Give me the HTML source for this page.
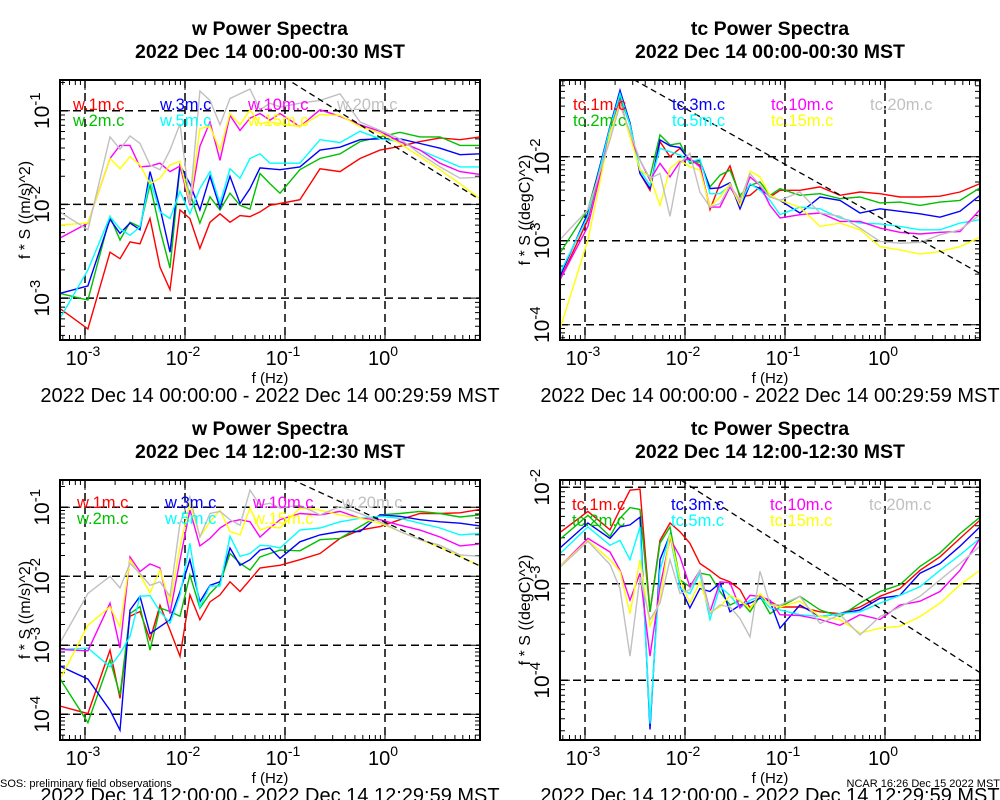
<!DOCTYPE html>
<html><head><meta charset="utf-8"><style>
html,body{margin:0;padding:0;background:#fff}
svg{display:block;font-family:"Liberation Sans",sans-serif}
</style></head><body>
<svg id="chart" width="1000" height="800" viewBox="0 0 1000 800" xmlns="http://www.w3.org/2000/svg">
<rect width="1000" height="800" fill="#fff"/>
<text x="0" y="787" font-size="11">SOS: preliminary field observations</text>
<text x="1000" y="787" font-size="11" text-anchor="end">NCAR 16:26 Dec 15 2022 MST</text>
</svg>
<script>
// Frequencies (Hz)
const freqHz = [5.6e-4,1.07e-3,1.78e-3,2.24e-3,2.82e-3,3.55e-3,4.47e-3,5.62e-3,7.08e-3,8.91e-3,1.12e-2,1.41e-2,1.78e-2,2.24e-2,2.82e-2,3.55e-2,4.47e-2,5.62e-2,7.08e-2,8.91e-2,0.141,0.224,0.355,0.562,0.891,1.41,2.24,3.55,5.62,8.91];
const heights = ["1m","2m","3m","5m","10m","15m","20m"];
// Panel 1: w 00:00 (log10 of f*S)
const w00_1m = [-3.11,-3.33,-2.51,-2.58,-2.40,-2.42,-2.15,-2.67,-2.91,-2.06,-2.15,-2.47,-2.19,-2.10,-2.19,-2.12,-2.13,-2.08,-2.01,-1.99,-1.95,-1.62,-1.65,-1.51,-1.42,-1.38,-1.33,-1.29,-1.31,-1.28];
const w00_2m = [-2.95,-3.02,-2.13,-2.38,-2.19,-2.24,-1.79,-2.27,-2.68,-1.60,-1.88,-2.20,-1.92,-2.06,-1.88,-2.01,-2.05,-1.67,-1.78,-1.88,-1.63,-1.51,-1.46,-1.33,-1.28,-1.23,-1.28,-1.28,-1.37,-1.37];
const w00_3m = [-2.95,-2.87,-2.16,-2.31,-2.20,-2.27,-1.65,-2.04,-2.51,-1.58,-1.78,-2.06,-1.70,-2.04,-1.70,-1.99,-1.83,-1.61,-1.62,-1.63,-1.60,-1.42,-1.39,-1.31,-1.30,-1.30,-1.35,-1.40,-1.47,-1.46];
const w00_5m = [-3.22,-2.70,-2.13,-2.26,-2.33,-2.24,-1.74,-2.08,-2.15,-1.86,-2.10,-1.83,-1.65,-1.99,-1.62,-1.72,-1.51,-1.46,-1.56,-1.56,-1.56,-1.31,-1.34,-1.22,-1.30,-1.33,-1.42,-1.51,-1.60,-1.60];
const w00_10m = [-2.36,-2.20,-1.51,-1.37,-1.37,-1.60,-1.59,-1.56,-1.65,-1.59,-2.01,-1.38,-1.12,-1.53,-1.05,-1.21,-1.08,-1.03,-1.10,-1.03,-1.17,-0.99,-1.06,-1.15,-1.22,-1.33,-1.42,-1.56,-1.65,-1.68];
const w00_15m = [-2.22,-2.20,-1.51,-1.62,-1.49,-1.58,-1.78,-1.72,-1.58,-1.54,-1.99,-1.19,-1.17,-1.42,-1.03,-1.15,-0.99,-1.14,-1.12,-1.14,-1.17,-1.04,-1.05,-1.17,-1.24,-1.35,-1.49,-1.63,-1.78,-1.94];
const w00_20m = [-2.08,-2.27,-1.28,-1.41,-1.27,-1.35,-1.58,-1.63,-1.42,-1.14,-1.99,-0.79,-0.89,-1.15,-0.87,-0.82,-0.77,-0.99,-0.92,-0.96,-0.92,-0.89,-0.82,-1.12,-1.21,-1.30,-1.46,-1.60,-1.72,-1.71];
// Panel 2: tc 00:00
const tc00_1m = [-3.47,-2.75,-1.64,-1.23,-1.60,-2.20,-2.40,-1.82,-2.00,-1.90,-2.04,-2.10,-2.63,-2.32,-2.11,-2.48,-2.46,-2.36,-2.48,-2.40,-2.40,-2.36,-2.46,-2.42,-2.44,-2.48,-2.48,-2.47,-2.42,-2.32];
const tc00_2m = [-3.15,-2.63,-1.68,-1.29,-1.62,-2.16,-2.24,-1.74,-1.86,-1.84,-2.08,-2.06,-2.36,-2.22,-2.16,-2.46,-2.34,-2.30,-2.46,-2.38,-2.46,-2.44,-2.50,-2.48,-2.55,-2.54,-2.58,-2.54,-2.52,-2.37];
const tc00_3m = [-3.43,-2.67,-1.64,-1.21,-1.60,-2.20,-2.38,-1.80,-1.87,-1.89,-2.06,-2.04,-2.38,-2.37,-2.31,-2.62,-2.33,-2.38,-2.47,-2.52,-2.67,-2.48,-2.52,-2.67,-2.62,-2.65,-2.68,-2.72,-2.65,-2.46];
const tc00_5m = [-3.39,-2.71,-1.66,-1.25,-1.62,-2.16,-2.34,-1.90,-1.94,-1.98,-2.06,-2.03,-2.44,-2.44,-2.34,-2.56,-2.32,-2.40,-2.52,-2.69,-2.60,-2.62,-2.73,-2.79,-2.80,-2.83,-2.87,-2.87,-2.79,-2.75];
const tc00_10m = [-3.47,-2.83,-1.72,-1.33,-1.76,-2.04,-2.28,-2.08,-2.24,-2.06,-2.02,-2.12,-2.60,-2.60,-2.36,-2.56,-2.24,-2.34,-2.58,-2.73,-2.69,-2.67,-2.77,-2.77,-2.85,-2.90,-2.92,-2.90,-2.89,-2.63];
const tc00_15m = [-4.06,-2.99,-1.72,-1.36,-1.76,-2.16,-2.24,-2.58,-2.14,-2.04,-2.12,-2.16,-2.60,-2.48,-2.32,-2.58,-2.17,-2.24,-2.46,-2.52,-2.60,-2.83,-2.79,-2.87,-3.07,-3.11,-3.16,-3.13,-3.07,-2.96];
const tc00_20m = [-2.99,-2.63,-1.80,-1.38,-1.71,-2.04,-2.26,-2.20,-2.71,-2.08,-1.96,-2.42,-2.60,-2.56,-2.34,-2.52,-2.20,-2.34,-2.48,-2.52,-2.42,-2.67,-2.71,-2.85,-3.01,-3.03,-3.02,-2.93,-2.87,-2.69];
// Panel 3: w 12:00
const w12_1m = [-3.88,-3.99,-3.07,-3.77,-2.58,-2.51,-2.92,-2.42,-2.78,-3.16,-2.27,-2.63,-2.37,-2.27,-2.08,-2.22,-2.05,-1.88,-1.86,-1.84,-1.76,-1.67,-1.45,-1.33,-1.28,-1.18,-1.09,-1.09,-1.08,-1.03];
const w12_2m = [-3.48,-4.12,-3.21,-3.72,-2.54,-2.44,-3.07,-2.46,-2.51,-2.58,-1.98,-2.46,-2.25,-2.10,-1.67,-1.81,-1.91,-1.72,-1.67,-1.62,-1.63,-1.47,-1.45,-1.28,-1.11,-1.09,-1.06,-1.09,-1.14,-1.11];
const w12_3m = [-3.30,-3.49,-3.94,-4.23,-2.49,-2.29,-2.83,-2.73,-2.63,-2.22,-1.76,-2.37,-2.13,-2.08,-1.59,-1.84,-1.76,-1.62,-1.59,-1.74,-1.50,-1.40,-1.35,-1.35,-1.11,-1.13,-1.18,-1.21,-1.23,-1.27];
const w12_5m = [-3.06,-3.04,-3.31,-3.12,-2.87,-2.29,-2.28,-2.51,-2.68,-2.27,-1.52,-2.44,-2.14,-2.14,-1.42,-1.71,-1.67,-1.55,-1.56,-1.59,-1.33,-1.30,-1.21,-1.16,-1.13,-1.16,-1.23,-1.30,-1.40,-1.38];
const w12_10m = [-3.06,-3.08,-2.39,-3.04,-1.72,-1.93,-1.82,-1.88,-2.54,-1.76,-1.04,-1.56,-1.45,-1.30,-1.21,-1.18,-1.21,-1.43,-1.30,-1.18,-1.09,-1.11,-1.06,-1.16,-1.18,-1.26,-1.33,-1.43,-1.56,-1.53];
const w12_15m = [-3.50,-2.71,-2.44,-2.73,-1.76,-1.98,-2.24,-1.91,-2.39,-1.57,-0.94,-1.43,-1.21,-1.04,-1.35,-1.40,-1.01,-1.33,-1.28,-1.30,-1.01,-1.04,-1.11,-1.16,-1.23,-1.35,-1.47,-1.58,-1.71,-1.85];
const w12_20m = [-2.97,-2.25,-2.00,-2.17,-1.81,-1.96,-2.13,-2.08,-2.29,-1.23,-0.85,-1.43,-1.09,-1.06,-1.18,-1.26,-0.75,-0.97,-0.94,-1.01,-0.97,-1.11,-0.99,-1.09,-1.21,-1.35,-1.47,-1.55,-1.69,-1.71];
// Panel 4: tc 12:00
const tc12_1m = [-2.47,-2.25,-2.44,-2.23,-2.03,-2.02,-3.29,-2.55,-2.37,-2.46,-2.58,-2.79,-2.86,-2.94,-2.98,-3.06,-3.25,-3.13,-3.18,-3.24,-3.24,-3.29,-3.31,-3.24,-3.13,-3.05,-2.86,-2.72,-2.53,-2.34];
const tc12_2m = [-2.54,-2.29,-2.51,-2.32,-2.21,-2.23,-3.29,-2.58,-2.41,-2.96,-3.03,-2.89,-2.91,-3.08,-3.22,-3.17,-3.29,-3.13,-3.31,-3.24,-3.13,-3.27,-3.34,-3.20,-3.08,-3.01,-2.82,-2.68,-2.48,-2.31];
const tc12_3m = [-2.63,-2.37,-2.53,-2.41,-2.39,-2.31,-4.51,-2.75,-2.49,-3.03,-3.25,-3.05,-3.08,-2.99,-3.29,-3.22,-3.20,-3.15,-3.18,-3.46,-3.22,-3.34,-3.31,-3.27,-3.15,-3.12,-2.89,-2.79,-2.61,-2.41];
const tc12_5m = [-2.69,-2.41,-2.60,-2.55,-2.75,-2.41,-4.45,-2.86,-2.48,-3.05,-3.10,-2.89,-3.37,-3.03,-3.12,-3.25,-3.17,-3.13,-3.25,-3.27,-3.32,-3.34,-3.31,-3.29,-3.20,-3.12,-3.03,-2.86,-2.70,-2.53];
const tc12_10m = [-2.82,-2.53,-2.67,-2.86,-3.17,-2.89,-3.75,-3.03,-2.53,-2.72,-3.03,-2.86,-3.29,-2.98,-2.99,-3.25,-3.12,-3.13,-3.17,-3.32,-3.33,-3.37,-3.43,-3.32,-3.37,-3.22,-3.18,-3.08,-2.86,-2.53];
const tc12_15m = [-2.82,-2.55,-2.75,-2.87,-3.31,-2.75,-3.44,-3.17,-2.49,-2.96,-3.20,-2.98,-3.29,-3.24,-3.12,-3.17,-3.26,-3.10,-3.22,-3.24,-3.18,-3.34,-3.37,-3.51,-3.46,-3.44,-3.34,-3.20,-3.01,-2.86];
const tc12_20m = [-2.83,-2.56,-2.80,-3.05,-3.75,-2.93,-3.37,-3.20,-2.75,-3.10,-3.06,-2.86,-3.31,-3.22,-3.24,-3.36,-3.55,-2.87,-3.21,-3.22,-3.13,-3.41,-3.32,-3.53,-3.34,-3.24,-3.13,-2.96,-2.79,-2.61];
// Reference -2/3 slope line: log10 value at f = 8.91 Hz
const refLineAt9Hz = [-1.95,-3.39,-1.85,-3.92];
const xTickExps = [-3,-2,-1,0];

const colors = ["#ff0000","#00c000","#0000ff","#00ffff","#ff00ff","#ffff00","#c0c0c0"];
const NS = "http://www.w3.org/2000/svg";
const svg = document.getElementById("chart");
function el(tag, attrs, parent){const e=document.createElementNS(NS,tag);for(const k in attrs)e.setAttribute(k,attrs[k]);(parent||svg).appendChild(e);return e;}

const panels = [
 {v:"w",title:"w Power Spectra",sub:"2022 Dec 14 00:00-00:30 MST",range:"2022 Dec 14 00:00:00 - 2022 Dec 14 00:29:59 MST",ox:0,top:80,yRef:-1,yRefPx:110.7,ppd:93.7,yDec:[-1,-2,-3],ylab:"f * S ((m/s)^2)",series:[w00_1m,w00_2m,w00_3m,w00_5m,w00_10m,w00_15m,w00_20m],ref:refLineAt9Hz[0],legY:110,legX:[73,160,248,337]},
 {v:"tc",title:"tc Power Spectra",sub:"2022 Dec 14 00:00-00:30 MST",range:"2022 Dec 14 00:00:00 - 2022 Dec 14 00:29:59 MST",ox:500,top:80,yRef:-2,yRefPx:156.7,ppd:84,yDec:[-2,-3,-4],ylab:"f * S ((degC)^2)",series:[tc00_1m,tc00_2m,tc00_3m,tc00_5m,tc00_10m,tc00_15m,tc00_20m],ref:refLineAt9Hz[1],legY:110,legX:[573,672,771,870]},
 {v:"w",title:"w Power Spectra",sub:"2022 Dec 14 12:00-12:30 MST",range:"2022 Dec 14 12:00:00 - 2022 Dec 14 12:29:59 MST",ox:0,top:480,yRef:-1,yRefPx:507.3,ppd:69,yDec:[-1,-2,-3,-4],ylab:"f * S ((m/s)^2)",series:[w12_1m,w12_2m,w12_3m,w12_5m,w12_10m,w12_15m,w12_20m],ref:refLineAt9Hz[2],legY:508,legX:[77,165,253,342]},
 {v:"tc",title:"tc Power Spectra",sub:"2022 Dec 14 12:00-12:30 MST",range:"2022 Dec 14 12:00:00 - 2022 Dec 14 12:29:59 MST",ox:500,top:480,yRef:-2,yRefPx:487.3,ppd:96.5,yDec:[-2,-3,-4],ylab:"f * S ((degC)^2)",series:[tc12_1m,tc12_2m,tc12_3m,tc12_5m,tc12_10m,tc12_15m,tc12_20m],ref:refLineAt9Hz[3],legY:510,legX:[572,671,770,869]}
];

panels.forEach((p,pi)=>{
  const L=p.ox+60, R=p.ox+480, T=p.top, B=p.top+260;
  const xS = lf => p.ox+85+100*(lf+3);
  const yS = ly => p.yRefPx+(p.yRef-ly)*p.ppd;
  const g = el("g",{});
  
  
  const cx=p.ox+270;
  const t1=el("text",{x:cx,y:T-45,"font-size":19.5,"font-weight":"bold","text-anchor":"middle"},g); t1.textContent=p.title;
  
  
  const t2=el("text",{x:cx,y:T-22,"font-size":19.5,"font-weight":"bold","text-anchor":"middle"},g); t2.textContent=p.sub;
  
  
  const cid="clip"+pi;
  const cp=el("clipPath",{id:cid},g); el("rect",{x:L,y:T,width:R-L,height:B-T},cp);
  let tk="";
  for(let d=-4;d<=1;d++)for(let k=1;k<10;k++){const lf=d+Math.log10(k);const x=xS(lf);if(x<L||x>R)continue;const len=k===1?10:5;tk+=`M${x},${B}v${-len}M${x},${T}v${len}`;}
  for(let d=-5;d<=0;d++)for(let k=1;k<10;k++){const ly=d+Math.log10(k);const y=yS(ly);if(y<T||y>B)continue;const len=k===1?10:5;tk+=`M${L},${y}h${len}M${R},${y}h${-len}`;}
  const ticks=el("path",{d:tk,stroke:"#000","stroke-width":1,fill:"none"},g);
  
  
  let gd="";
  xTickExps.forEach(e=>{const x=xS(e);gd+=`M${x},${T}V${B}`;});
  p.yDec.forEach(e=>{const y=yS(e);gd+=`M${L},${y}H${R}`;});
  const grid=el("path",{d:gd,stroke:"#000","stroke-width":1.5,"stroke-dasharray":"8,5",fill:"none"},g);
  
  
  p.series.forEach((arr,si)=>{
    const d=arr.map((v,i)=>(i?"L":"M")+xS(Math.log10(freqHz[i])).toFixed(1)+","+yS(v).toFixed(1)).join("");
    const ln=el("path",{d:d,stroke:colors[si],"stroke-width":1.4,fill:"none","clip-path":`url(#${cid})`},g);
    
    
  });
  const lf0=Math.log10(8.91), lfa=-3.3;
  const rl=el("path",{d:`M${xS(lfa)},${yS(p.ref-2/3*(lfa-lf0))}L${xS(lf0)},${yS(p.ref)}`,stroke:"#000","stroke-width":1.3,"stroke-dasharray":"6,4",fill:"none","clip-path":`url(#${cid})`},g);
  
  
  heights.forEach((h,si)=>{
    const row=si%2;
    const lx=p.legX[Math.floor(si/2)], ly=p.legY+row*16;
    const lt=el("text",{x:lx,y:ly,"font-size":16.5,fill:colors[si]},g); lt.textContent=p.v+"."+h+".c";
    
    
  });
  const fr=el("rect",{x:L,y:T,width:R-L,height:B-T,fill:"none",stroke:"#000","stroke-width":2},g);
  
  
  xTickExps.forEach(e=>{
    const x=xS(e);
    const tl=el("text",{x:x-2,y:B+25,"font-size":20,"text-anchor":"middle"},g);
    tl.innerHTML=`10<tspan dy="-9" font-size="14">${e}</tspan>`;
    
    
  });
  const xt=el("text",{x:cx,y:B+43,"font-size":15,"text-anchor":"middle"},g); xt.textContent="f (Hz)";
  
  
  const dr=el("text",{x:cx,y:B+62,"font-size":20,"text-anchor":"middle"},g); dr.textContent=p.range;
  
  
  p.yDec.forEach(e=>{
    const y=yS(e);
    const tl=el("text",{x:0,y:0,"font-size":21,"text-anchor":"middle",transform:`translate(${p.ox+49},${y}) rotate(-90)`},g);
    tl.innerHTML=`10<tspan dy="-9" font-size="15">${e}</tspan>`;
    
    
  });
  const yt=el("text",{x:0,y:0,"font-size":16,"text-anchor":"middle",transform:`translate(${p.ox+30},${(T+B)/2}) rotate(-90)`},g); yt.textContent=p.ylab;
  
  
});
</script>
</body></html>
